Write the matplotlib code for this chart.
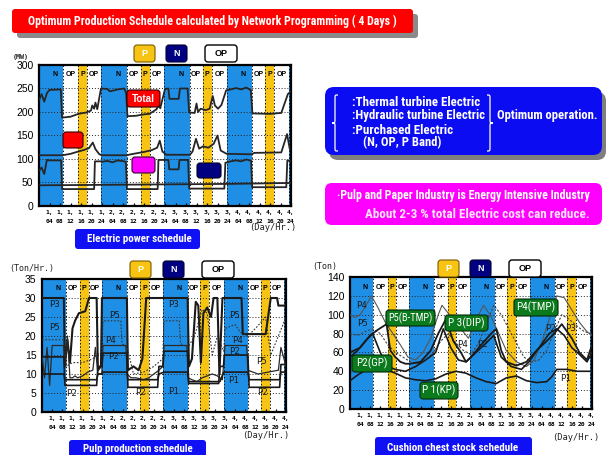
import matplotlib
matplotlib.use("Agg")
import matplotlib.pyplot as plt
from matplotlib.patches import FancyBboxPatch, PathPatch
from matplotlib.path import Path
from matplotlib import font_manager

W, H = 607, 455
fig = plt.figure(figsize=(W / 100, H / 100), dpi=100)

# pick the narrowest bold sans face available for the banner texts
_fonts = font_manager.fontManager.ttflist
_names = {f.name for f in _fonts}
NARROW = None
for cand in ['Liberation Sans Narrow', 'Roboto Condensed', 'Open Sans Condensed', 'Noto Sans Condensed',
             'DejaVu Sans Condensed']:
    if cand in _names:
        NARROW = dict(family=cand)
        break
if NARROW is None:
    cond = [f for f in _fonts if ('Condensed' in f.fname or 'Narrow' in f.fname or 'Cond' in f.fname)
            and 'Mono' not in f.name and 'Serif' not in f.name]
    if cond:
        NARROW = dict(family=cond[0].name, stretch=cond[0].stretch)
    elif 'Roboto' in _names:
        NARROW = dict(family='Roboto')
    else:
        NARROW = dict(family='Liberation Sans')
SANS = 'Liberation Sans'
MONO = 'DejaVu Sans Mono'

BLUE = '#1f8fe6'
YELLOW = '#f8c414'
NAVY = '#000080'

# ---- tariff bands (hours from start of day 1) ----
N_START = [0, 23.5, 47.5, 71.5, 95.2]
N_END = [9.3, 33.4, 57.4, 81.2, 96]
P_START = [14.9, 38.7, 62.3, 86.1]
P_END = [18.4, 42.1, 65.9, 89.6]

TICK_H = [4, 8, 12, 16, 20, 24, 28, 32, 36, 40, 44, 48, 52, 56, 60, 64, 68, 72, 76, 80, 84, 88, 92, 96]
TICK_DAY = ['1', '1', '1', '1', '1', '1', '2', '2', '2', '2', '2', '2',
            '3', '3', '3', '3', '3', '3', '4', '4', '4', '4', '4', '4']
TICK_HR = ['04', '08', '12', '16', '20', '24'] * 4

# ---- electric power schedule (MW) ----
TOTAL_H = [0, 1, 2, 3, 4, 8.3, 8.8, 12, 15, 18, 19.8, 20.3, 21, 21.5, 22.2, 23.6, 26, 27, 30, 32.5,
           33.2, 33.7, 37, 40, 42, 43.5, 44.8, 45.5, 46.2, 48, 49.3, 49.7, 53.2, 53.7, 56.6, 57.2,
           59.3, 60, 60.6, 61.6, 63.5, 65, 66.2, 67, 68.2, 69.5, 71.3, 73, 75, 77, 79, 80.7, 81.3,
           88, 92.3, 94.8, 96]
TOTAL_V = [225, 238, 222, 240, 247, 248, 188, 190, 196, 199, 203, 214, 207, 220, 206, 250, 249, 244, 248, 250,
           240, 191, 192, 195, 196, 201, 206, 214, 208, 249, 250, 228, 228, 250, 250, 199,
           198, 218, 200, 207, 204, 207, 234, 214, 207, 215, 246, 248, 251, 248, 252, 246, 197,
           196, 198, 238, 244]
THERM_H = [0, 9, 12, 15, 17, 19, 20.5, 21.5, 23, 24, 33.5, 35, 40, 43, 45, 46, 47, 48.5, 57.5, 58.5,
           59.8, 61, 62.5, 64.5, 66.5, 68, 69.2, 71.5, 81, 82, 92.3, 94.5, 95.5]
THERM_V = [108, 108, 111, 116, 119, 123, 135, 121, 110, 108, 108, 110, 115, 119, 124, 139, 116, 109, 109, 116,
           143, 122, 127, 124, 132, 150, 118, 111, 110, 113, 114, 153, 122]
HYDRO_H = [0, 1, 2, 3, 4, 8.4, 8.8, 21, 21.3, 23.6, 24, 26, 28, 30, 32.5, 33.1, 33.5, 45.2, 45.5, 48.4,
           49.3, 49.6, 53.2, 53.5, 56.8, 57.2, 70.6, 71.0, 73, 75, 77, 79, 80.8, 81.2, 94.2, 94.6, 96]
HYDRO_V = [75, 82, 68, 98, 97, 97, 36, 36, 95, 95, 94, 96, 93, 97, 95, 93, 36, 36, 98, 98,
           98, 78, 78, 98, 98, 37, 37, 92, 95, 97, 95, 99, 96, 40, 40, 97, 95]
PURCH_H = [0, 24, 48, 72, 96]
PURCH_V = [44, 45, 46, 47, 49]

# ---- pulp production (Ton/Hr) ----
PP3_H = [0, 8.6, 9.0, 10, 11, 12, 13, 14.5, 17, 18.5, 21.5, 22, 23.2, 23.6, 33.4, 33.8, 36, 38, 39.5, 41,
         57.3, 57.8, 59, 60.5, 61.5, 62.5, 63.5, 65, 66.5, 67.5, 69, 69.8, 71, 78.5, 79, 88, 90, 92.5, 93, 96]
PP3_V = [30, 30, 12, 19, 13, 22, 24, 26, 26.5, 30, 30, 11, 12, 30, 30, 11, 12, 11, 14, 30,
         30, 12, 14, 29, 28, 13, 26, 27.5, 25, 30, 30, 10, 30, 30, 20.5, 20.5, 30, 30, 28, 28]
PP5_H = [0, 8.5, 9.5, 12, 16, 20, 23.5, 24, 31, 31.5, 33.5, 36, 40, 44, 47.5, 48, 54, 54.5, 57.5, 60,
         63, 65, 67, 69, 71.5, 72, 76, 78, 81, 84, 88, 90, 93, 96]
PP5_V = [19, 19, 12, 13, 13, 14, 16, 24, 24, 18, 17, 10, 10.5, 12, 14, 24, 24, 18, 17, 20,
         27, 26, 15, 20, 16, 22, 23, 21, 20, 22, 25, 15, 20, 25]
PP4_H = [0, 1, 2, 3, 4, 8.5, 9, 10, 11, 12, 13, 14, 16, 18, 20, 21, 22, 23.5, 24, 33, 33.5, 35, 37, 40,
         42, 44, 46, 47.5, 48, 57, 57.5, 59, 61, 63, 65, 67, 69, 71, 72, 80.5, 81, 85, 89, 93, 94, 96]
PP4_V = [15, 9, 17, 7, 17.5, 17.5, 12, 20, 9, 9, 9.5, 9, 9.5, 10.5, 11, 17, 10, 10, 17.5, 17.5, 10, 9, 9, 8.5,
         9, 10, 11, 12, 17.5, 17.5, 9, 8.5, 8, 9, 9.5, 10, 9.5, 8.5, 17.5, 17.5, 11, 10, 10.5, 11, 17, 12]
PP2_H = [0, 8.6, 9, 21.5, 22, 23.6, 24, 33.4, 33.8, 45.5, 46, 47.6, 48, 57.3, 57.7, 69.5, 70, 71.4, 71.8,
         81, 81.5, 93.5, 94, 96]
PP2_V = [14.5, 14.5, 7, 7, 12, 12, 15.5, 15.5, 6.5, 6.5, 12, 12, 16, 16, 7.5, 7.5, 12, 12, 15,
         15, 6.5, 6.5, 12.5, 12.5]
PP1_H = [0, 8.6, 9, 21.5, 22, 23.6, 24, 33.4, 33.8, 45.5, 46, 48, 57.3, 57.7, 70, 71.5, 81, 81.5, 93.5, 94, 96]
PP1_V = [10, 10, 8.5, 8.5, 10, 10, 10.5, 10.5, 8.5, 8.5, 10, 10.5, 10.5, 8, 8, 10.5, 10.5, 8.5, 8.5, 10.5, 10.5]
PULP_TAGS = ['P3', 'P5', 'P2', 'P5', 'P4', 'P2', 'P2', 'P3', 'P1', 'P5', 'P4', 'P2', 'P1', 'P5', 'P2']
PULP_TAG_H = [5.1, 5.1, 11.7, 28.5, 26.8, 28, 38.6, 51.6, 51.6, 75.7, 77, 75.6, 75.3, 86.5, 86.9]
PULP_TAG_V = [28.2, 22.2, 4.9, 25.3, 18.9, 14.5, 5.1, 28.4, 5.5, 25.3, 18.9, 15.9, 8.2, 13.4, 5.1]

# ---- cushion chest stock (Ton) ----
CP1_H = [0, 3, 6, 10, 14, 18, 22, 26, 30, 34, 38, 42, 46, 50, 54, 58, 62, 66, 70, 74, 78, 80, 82, 86, 90, 96]
CP1_V = [30, 36, 41, 44, 42, 38, 33, 31, 30, 32, 37, 40, 38, 33, 29, 27, 33, 35, 30, 28, 29, 34, 42, 42, 40, 40]
CP2_H = [0, 4, 8, 11, 14.5, 16, 18, 20, 22, 24, 28, 32, 35, 38, 41, 44, 46, 48, 52, 56, 58, 60, 62, 64, 66,
         70, 74, 78, 81, 84, 88, 91, 94, 96]
CP2_V = [60, 65, 78, 84, 90, 62, 55, 50, 48, 48, 50, 62, 80, 95, 72, 60, 50, 55, 68, 80, 85, 62, 50, 48, 46,
         50, 62, 72, 80, 90, 75, 60, 52, 68]
CP3_H = [0, 3, 6, 9, 12, 15, 18, 22, 26, 30, 34, 37, 40, 43, 46, 50, 54, 57, 60, 64, 68, 71, 75, 79, 82,
         85, 88, 91, 94, 96]
CP3_V = [55, 62, 72, 80, 60, 45, 42, 40, 45, 52, 60, 85, 65, 52, 50, 60, 70, 78, 55, 45, 42, 50, 65, 80, 85,
         78, 65, 58, 50, 60]
CP4_H = [0, 2, 4, 6, 8.5, 11, 14, 17, 20, 23, 26, 29, 32, 35, 36.5, 40, 44, 47, 50, 53, 56, 59, 62, 66, 70,
         73, 76, 79, 82, 85, 88, 91, 94, 96]
CP4_V = [100, 97, 100, 108, 120, 108, 92, 80, 68, 55, 52, 60, 75, 100, 110, 98, 85, 75, 95, 110, 98, 80, 62,
         50, 45, 52, 70, 95, 120, 118, 105, 92, 82, 78]
CP5_H = [0, 3, 6, 9, 12, 15, 18, 21, 24, 27, 30, 33, 36, 39, 42, 45, 48, 51, 54, 57, 60, 63, 66, 69, 72,
         75, 78, 81, 84, 87, 90, 93, 96]
CP5_V = [80, 78, 82, 85, 80, 68, 60, 55, 50, 48, 52, 60, 72, 80, 70, 62, 58, 70, 90, 110, 100, 85, 70, 55, 50,
         52, 62, 82, 100, 95, 88, 82, 80]
CUSH_TAGS = ['P4', 'P5', 'P4', 'P2', 'P2', 'P3', 'P1']
CUSH_TAG_H = [4.6, 4.9, 44.6, 52.5, 79.4, 87.3, 85.3]
CUSH_TAG_V = [110, 91, 68, 68.5, 85, 85, 32]


def px_axes(x0, y0, x1, y1):
    return fig.add_axes([x0 / W, 1 - y1 / H, (x1 - x0) / W, (y1 - y0) / H])


def schedule_axes(ax, ymax, yticks, label_y):
    ax.set_xlim(0, 96)
    ax.set_ylim(0, ymax)
    for s, e in zip(N_START, N_END):
        ax.axvspan(s, e, color=BLUE, lw=0, zorder=0)
    for s, e in zip(P_START, P_END):
        ax.axvspan(s, e, color=YELLOW, lw=0, zorder=0)
    for e in sorted(set(N_START + N_END + P_START + P_END) - {0, 96}):
        ax.axvline(e, color='#111111', lw=0.7, ls=(0, (1.5, 2)), zorder=1)
    for yv in yticks[1:-1]:
        ax.axhline(yv, color='#222222', lw=0.7, ls=(0, (1, 2)), zorder=1)
    ax.set_yticks(yticks)
    ax.set_yticklabels([str(v) for v in yticks], fontsize=7.5, family=SANS)
    ax.set_xticks(TICK_H)
    ax.set_xticklabels([f'{d},\n{h}' for d, h in zip(TICK_DAY, TICK_HR)],
                       fontsize=4.6, family=MONO, fontweight='bold', linespacing=1.9)
    ax.tick_params(axis='x', direction='in', length=2.5, width=0.9, pad=3)
    ax.tick_params(axis='y', length=0, pad=4)
    for sp in ax.spines.values():
        sp.set_linewidth(1.6)
    for i in range(4):
        kw = dict(fontsize=5, fontweight='bold', ha='center', va='center', zorder=2, family=SANS)
        ax.text((N_START[i] + N_END[i]) / 2 + 1.5, label_y, 'N', **kw)
        ax.text((N_END[i] + P_START[i]) / 2, label_y, 'OP', **kw)
        ax.text((P_START[i] + P_END[i]) / 2, label_y, 'P', **kw)
        ax.text((P_END[i] + N_START[i + 1]) / 2, label_y, 'OP', **kw)


# ---- top: electric power ----
ax1 = px_axes(39, 65, 291, 206)
schedule_axes(ax1, 300, [0, 50, 100, 150, 200, 250, 300], 280)
for hh, vv in [(TOTAL_H, TOTAL_V), (THERM_H, THERM_V), (HYDRO_H, HYDRO_V), (PURCH_H, PURCH_V)]:
    ax1.plot(hh, vv, color='#262626', lw=1.3, zorder=3)

# ---- bottom left: pulp production ----
ax2 = px_axes(42, 279, 286, 412)
schedule_axes(ax2, 35, [0, 5, 10, 15, 20, 25, 30, 35], 32.5)
ax2.plot(PP3_H, PP3_V, color='#1a1a1a', lw=1.5, zorder=3)
ax2.plot(PP5_H, PP5_V, color='#333333', lw=0.8, ls=(0, (1.5, 1.5)), zorder=3)
ax2.plot(PP4_H, PP4_V, color='#2a2a2a', lw=0.9, zorder=3)
ax2.plot(PP2_H, PP2_V, color='#1a1a1a', lw=1.2, zorder=3)
ax2.plot(PP1_H, PP1_V, color='#1a1a1a', lw=1.2, zorder=3)
for t, hh, vv in zip(PULP_TAGS, PULP_TAG_H, PULP_TAG_V):
    ax2.text(hh, vv, t, fontsize=6.5, family=MONO, ha='center', va='center', color='#1a1a1a', zorder=4)

# ---- bottom right: cushion chest stock ----
ax3 = px_axes(350, 277, 592, 409)
schedule_axes(ax3, 140, [0, 20, 40, 60, 80, 100, 120, 140], 129)
ax3.plot(CP4_H, CP4_V, color='#555555', lw=0.8, zorder=3)
ax3.plot(CP5_H, CP5_V, color='#444444', lw=0.8, ls=(0, (2, 1.5)), zorder=3)
ax3.plot(CP3_H, CP3_V, color='#1a1a1a', lw=1.2, zorder=3)
ax3.plot(CP2_H, CP2_V, color='#1a1a1a', lw=1.3, zorder=3)
ax3.plot(CP1_H, CP1_V, color='#1a1a1a', lw=1.2, zorder=3)
for t, hh, vv in zip(CUSH_TAGS, CUSH_TAG_H, CUSH_TAG_V):
    ax3.text(hh, vv, t, fontsize=6.5, family=MONO, ha='center', va='center', color='#1a1a1a', zorder=4)

# ---- overlay in pixel coordinates for boxes and captions ----
ov = fig.add_axes([0, 0, 1, 1], zorder=10)
ov.set_xlim(0, W)
ov.set_ylim(H, 0)
ov.axis('off')
ov.patch.set_alpha(0)
_renderer = fig.canvas.get_renderer()


def rbox(x0, y0, x1, y1, fc, ec='none', r=3, lw=1.0, z=2):
    ov.add_patch(FancyBboxPatch((x0, y0), x1 - x0, y1 - y0,
                                boxstyle=f'round,pad=0,rounding_size={r}',
                                fc=fc, ec=ec, lw=lw, zorder=z))


def txt(x, y, s, size, color='white', ha='center', weight='bold', font=None, width=None, z=5):
    fkw = NARROW if font is None else dict(family=font)
    t = ov.text(x, y, s, fontsize=size, color=color, ha=ha, va='center',
                fontweight=weight, zorder=z, **fkw)
    if width is not None:
        w = t.get_window_extent(renderer=_renderer).width
        if w > 0:
            t.set_fontsize(size * width / w)
    return t


def brace(x, y0, y1, w, tip_left=True, lw=0.9):
    d = 1 if tip_left else -1
    ym = (y0 + y1) / 2
    r = 4
    xa, xb = x + d * w, x + d * w / 2
    verts = [(xa, y0), (xb, y0), (xb, y0), (xb, y0 + r),
             (xb, ym - r),
             (xb, ym), (xb, ym), (x, ym),
             (xb, ym), (xb, ym), (xb, ym + r),
             (xb, y1 - r),
             (xb, y1), (xb, y1), (xa, y1)]
    codes = [Path.MOVETO, Path.CURVE4, Path.CURVE4, Path.CURVE4, Path.LINETO,
             Path.CURVE4, Path.CURVE4, Path.CURVE4, Path.CURVE4, Path.CURVE4, Path.CURVE4,
             Path.LINETO, Path.CURVE4, Path.CURVE4, Path.CURVE4]
    ov.add_patch(PathPatch(Path(verts, codes), fc='none', ec='white', lw=lw, zorder=5))


# title banner
rbox(17, 14, 418, 38, '#8a8a8a', r=3, z=1)
rbox(12, 9, 413, 33, '#ff0000', r=3, z=2)
txt(212, 21.5, 'Optimum Production Schedule calculated by Network Programming ( 4 Days )', 9.6, width=368)

# band keys above each chart
for px, py in [(134, 45), (130, 261), (438, 260)]:
    rbox(px, py, px + 21, py + 17, YELLOW, ec='#7a5a00', r=3, lw=0.8)
    txt(px + 10.5, py + 8.5, 'P', 6.5, font=SANS)
for px, py in [(166, 45), (163, 261), (470, 260)]:
    rbox(px, py, px + 21, py + 17, NAVY, ec='#000030', r=3, lw=0.8)
    txt(px + 10.5, py + 8.5, 'N', 6.5, font=SANS)
for px, py in [(205, 45), (202, 261), (509, 260)]:
    rbox(px, py, px + 32, py + 17, 'white', ec='black', r=3, lw=1.0)
    txt(px + 16, py + 8.5, 'OP', 6.5, color='black', font=SANS)

# series keys in the power chart
rbox(127, 90, 160, 107, '#ff0000', ec='#300000', r=3, lw=0.8)
txt(143.5, 98.5, 'Total', 8.5, font=SANS, width=23)
rbox(63, 132, 83, 148, '#ff0000', ec='#300000', r=3, lw=0.8)
rbox(132, 157, 155, 173, '#ff00ff', ec='#300030', r=3, lw=0.8)
rbox(197, 163, 221, 178, NAVY, ec='#000020', r=3, lw=0.8)

# axis unit labels
txt(21, 57, '(MW)', 4.8, color='#222222', font=MONO)
txt(32, 269, '(Ton/Hr.)', 6, color='#222222', font=MONO, weight='normal')
txt(325, 266, '(Ton)', 6, color='#222222', font=MONO, weight='normal')
txt(273, 227, '(Day/Hr.)', 6.3, color='#222222', font=MONO, weight='normal')
txt(266, 436, '(Day/Hr.)', 6.3, color='#222222', font=MONO, weight='normal')
txt(576, 437, '(Day/Hr.)', 6.3, color='#222222', font=MONO, weight='normal')

# chart captions
rbox(75, 229, 200, 249, '#1010f5', r=3)
txt(139.5, 239, 'Electric power schedule', 8.3, width=105)
rbox(69, 440, 206, 462, '#1010f5', r=3)
txt(137.5, 449, 'Pulp production schedule', 8.3, width=111)
rbox(375, 437, 532, 462, '#1010f5', r=3)
txt(452.5, 448, 'Cushion chest stock schedule', 8.3, width=131)

# operation note
rbox(329, 92, 606, 160, '#7f7f7f', r=9, z=1)
rbox(325, 87, 602, 155, '#0c0cf2', r=9, z=2)
brace(332, 95, 151, 6, tip_left=True)
brace(493, 95, 151, 6, tip_left=False)
txt(352, 102, ':Thermal turbine Electric', 8.6, ha='left', width=128)
txt(352, 116, ':Hydraulic turbine Electric', 8.6, ha='left', width=133)
txt(352, 130, ':Purchased Electric', 8.6, ha='left', width=101)
txt(363, 143, '(N, OP, P Band)', 8.6, ha='left', width=77)
txt(497, 115, 'Optimum operation.', 8.6, ha='left', width=100)

# industry note
rbox(325, 183, 602, 225, '#ff00ff', r=7)
txt(337, 196, '\u00b7Pulp and Paper Industry is Energy Intensive Industry', 8.0, ha='left', width=252)
txt(365, 214, 'About 2-3 % total Electric cost can reduce.', 8.0, color='#ffe4ff', ha='left', width=224)

# stream labels on the cushion chest chart
for x0, y0, x1, y1, s in [(386, 310, 435, 326, 'P5(B-TMP)'), (445, 315, 488, 331, 'P 3(DIP)'),
                          (514, 299, 558, 316, 'P4(TMP)'), (352, 355, 392, 372, 'P2(GP)'),
                          (420, 382, 458, 399, 'P 1(KP)')]:
    rbox(x0, y0, x1, y1, '#0a7a1c', ec='#052a0a', r=3, lw=0.8)
    t = txt((x0 + x1) / 2, (y0 + y1) / 2, s, 8.0, weight='normal')
    w = t.get_window_extent(renderer=_renderer).width
    if w > (x1 - x0) - 4:
        t.set_fontsize(8.0 * ((x1 - x0) - 4) / w)

fig.savefig('out.png', dpi=100)
